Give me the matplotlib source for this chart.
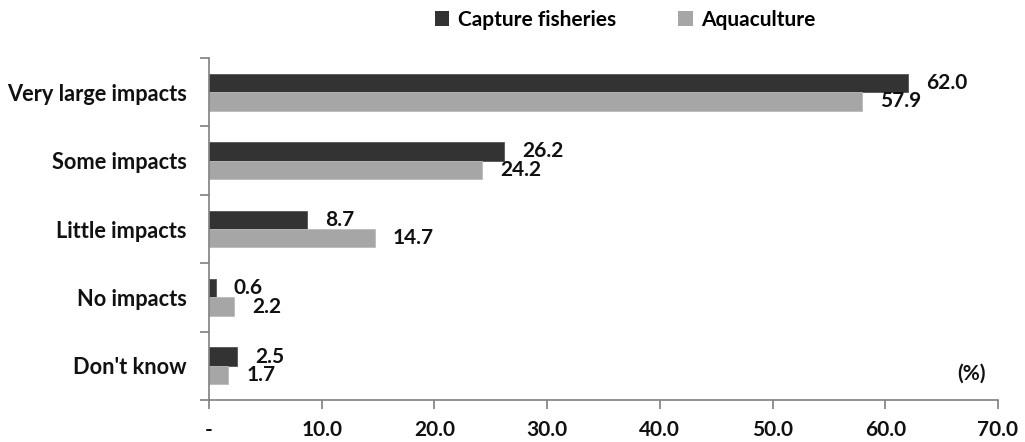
import matplotlib
matplotlib.use("Agg")
import matplotlib.pyplot as plt
from matplotlib.patches import Patch
import numpy as np

plt.rcParams['font.family'] = ['Lato', 'DejaVu Sans']
plt.rcParams['font.weight'] = 'bold'

categories = ["Very large impacts", "Some impacts", "Little impacts", "No impacts", "Don't know"]
capture = [62.0, 26.2, 8.7, 0.6, 2.5]
aquaculture = [57.9, 24.2, 14.7, 2.2, 1.7]
series_names = ["Capture fisheries", "Aquaculture"]
xticks = [0, 10, 20, 30, 40, 50, 60, 70]
xticklabels = ["-", "10.0", "20.0", "30.0", "40.0", "50.0", "60.0", "70.0"]

c_dark = "#333333"
c_light = "#a6a6a6"
axis_col = "#7f7f7f"
txt = "#111111"
fs = 15

fig = plt.figure(figsize=(10.25, 4.42), dpi=100)
ax = fig.add_axes([209/1025, 42/442, (998-209)/1025, (400-58)/442])

y = np.arange(len(categories))
h = 0.27
ax.barh(y - h/2, capture, height=h, color=c_dark, edgecolor="#555555", linewidth=0.6)
ax.barh(y + h/2, aquaculture, height=h, color=c_light, edgecolor="#bbbbbb", linewidth=0.6)

for yi, v in zip(y, capture):
    ax.annotate(f"{v:.1f}", (v, yi - h/2), xytext=(13, 0), textcoords="offset points",
                va="center", ha="left", fontsize=fs, fontweight="bold", color=txt)
for yi, v in zip(y, aquaculture):
    ax.annotate(f"{v:.1f}", (v, yi + h/2), xytext=(13, 0), textcoords="offset points",
                va="center", ha="left", fontsize=fs, fontweight="bold", color=txt)

ax.set_xlim(0, 70)
ax.set_ylim(len(categories) - 0.5, -0.5)
ax.set_xticks(xticks)
ax.set_xticklabels(xticklabels, fontsize=fs, fontweight="bold", color=txt)
ax.set_yticks(np.arange(len(categories) + 1) - 0.5)
ax.set_yticklabels([])
ax.set_yticks(y, minor=True)
ax.set_yticklabels(categories, minor=True, fontsize=15.7, fontweight="bold", color=txt)
ax.tick_params(axis="y", which="minor", length=0, pad=16)
ax.tick_params(axis="y", which="major", length=6.5, color=axis_col, width=1.2)
ax.tick_params(axis="x", length=6.5, color=axis_col, width=1.2, pad=8)

for s in ["top", "right"]:
    ax.spines[s].set_visible(False)
for s in ["left", "bottom"]:
    ax.spines[s].set_color(axis_col)
    ax.spines[s].set_linewidth(1.2)

ax.text(0.985, 0.078, "(%)", transform=ax.transAxes, ha="right", va="center",
        fontsize=fs, fontweight="bold", color=txt)

handles = [Patch(facecolor=c_dark, edgecolor="none"), Patch(facecolor=c_light, edgecolor="none")]
fig.legend(handles, series_names, loc="center", bbox_to_anchor=(625/1025, 1 - 20/442),
           ncol=2, frameon=False, handlelength=0.7, handleheight=0.7,
           handletextpad=0.4, columnspacing=3.0, prop={'weight': 'bold', 'size': fs})

fig.savefig("out.png", dpi=100)
